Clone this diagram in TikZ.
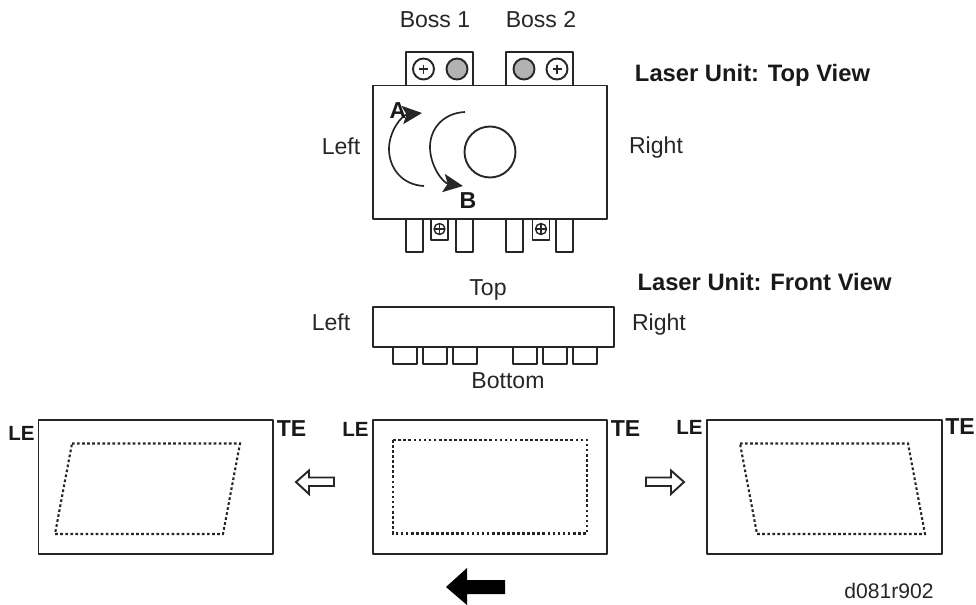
\documentclass[tikz,border=0pt]{standalone}
\usepackage{fontspec}
\setmainfont{Liberation Sans}
\usepackage{tikz}
\usetikzlibrary{arrows.meta}

\begin{document}
\begin{tikzpicture}[
    x=0.025cm, y=-0.025cm,
    part/.style={draw=black!85, line width=1.35pt, line join=round},
    thinpart/.style={draw=black!85, line width=1pt, line join=round},
    outline/.style={draw=black!85, fill=white, line width=1.35pt, line join=miter},
    margin/.style={draw=black!85, line width=1.5pt, dash pattern=on 1.9pt off 1.7pt},
    turn/.style={draw=black!85, line width=1.2pt, -{Stealth[length=14pt,width=13pt,inset=3pt]}},
    lbl/.style={font=\fontsize{16.4}{18}\selectfont, text=black!85, inner sep=0pt},
    head/.style={font=\fontsize{16.9}{18}\selectfont\bfseries, text=black!90, inner sep=0pt},
    edgelbl/.style={font=\fontsize{16.4}{18}\selectfont\bfseries, text=black!90, inner sep=0pt},
    lelbl/.style={font=\fontsize{14.6}{18}\selectfont\bfseries, text=black!90, inner sep=0pt}
]
    \useasboundingbox (0,0) rectangle (976,605);

    % top view
    \node[lbl] (boss1) at (435,20) {Boss 1};
    \node[lbl] (boss2) at (541,20) {Boss 2};
    \node[head] (topview) at (752.5,75.5) {Laser Unit: Top View};
    \node[lbl] (topleft) at (341,146) {Left};
    \node[lbl] (topright) at (656,148) {Right};

    \draw[part] (406,85.5) rectangle (473,52);
    \draw[part] (506,85.5) rectangle (573,52);
    \draw[part] (373,85.5) rectangle (607,219);
    \foreach \x in {423.5,557} {
        \draw[part] (\x,69) circle[radius=10.5];
        \draw[thinpart] (\x-4.5,69) -- (\x+4.5,69) (\x,64.5) -- (\x,73.5);
    }
    \foreach \x in {457,524} {
        \draw[part, fill=black!30] (\x,69) circle[radius=10.5];
    }
    \foreach \x in {406,456,506,556} {
        \draw[part] (\x,219) rectangle (\x+17,252);
    }
    \foreach \x in {439.5,541} {
        \draw[thinpart] (\x-8.5,219) rectangle (\x+8.5,240);
        \draw[thinpart] (\x,229) circle[radius=5.5];
        \draw[thinpart] (\x-5.5,229) -- (\x+5.5,229) (\x,223.5) -- (\x,234.5);
    }
    \draw[part] (490,152) circle[radius=25.5];

    \coordinate (astart) at (424,186);
    \coordinate (aend) at (422,113);
    \coordinate (bstart) at (465,112);
    \coordinate (bend) at (463,186);
    \draw[turn] (astart) .. controls (402,185) and (389,168) .. (389,149) .. controls (389,131) and (402,115) .. (aend);
    \draw[turn] (bstart) .. controls (443,113) and (430,129) .. (430,147) .. controls (430,166) and (443,183) .. (bend);
    \node[edgelbl] (arca) at (398,111) {A};
    \node[edgelbl] (arcb) at (468,201) {B};

    % front view
    \node[head] (frontview) at (764.5,282) {Laser Unit: Front View};
    \node[lbl] (fronttop) at (488,290) {Top};
    \node[lbl] (frontleft) at (331,322) {Left};
    \node[lbl] (frontright) at (659,325) {Right};
    \node[lbl] (frontbottom) at (508,381) {Bottom};
    \draw[part] (373,307) rectangle (614,347);
    \foreach \x in {393,423,453,513,543,573} {
        \draw[part] (\x,347) rectangle (\x+24,364);
    }

    % paper images
    \draw[part] (38.5,420) rectangle (273,554);
    \draw[part] (373,420) rectangle (607,554);
    \draw[part] (707,420) rectangle (942,554);
    \draw[margin] (72,443.5) -- (240,443.5) -- (223,534) -- (55,534) -- cycle;
    \draw[margin] (393,440) rectangle (587,533.5);
    \draw[margin] (740,443.5) -- (908,443.5) -- (925,534) -- (757,534) -- cycle;

    \node[lelbl] (le1) at (21.5,433) {LE};
    \node[edgelbl] (te1) at (291.5,429) {TE};
    \node[lelbl] (le2) at (355.5,429) {LE};
    \node[edgelbl] (te2) at (625.5,429) {TE};
    \node[lelbl] (le3) at (689.5,427) {LE};
    \node[edgelbl] (te3) at (960,427) {TE};

    \draw[outline] (296,482) -- (309,470.5) -- (309,477.5) -- (334,477.5) -- (334,486) -- (309,486) -- (309,494) -- cycle;
    \draw[outline] (684,482) -- (671,470.5) -- (671,477.5) -- (646,477.5) -- (646,486) -- (671,486) -- (671,494) -- cycle;
    \fill[black] (446,587) -- (467,568) -- (467,580) -- (505,580) -- (505,594) -- (467,594) -- (467,605) -- cycle;

    \node[lbl, font=\fontsize{15}{18}\selectfont] (partno) at (889,590.5) {d081r902};
\end{tikzpicture}
\end{document}
